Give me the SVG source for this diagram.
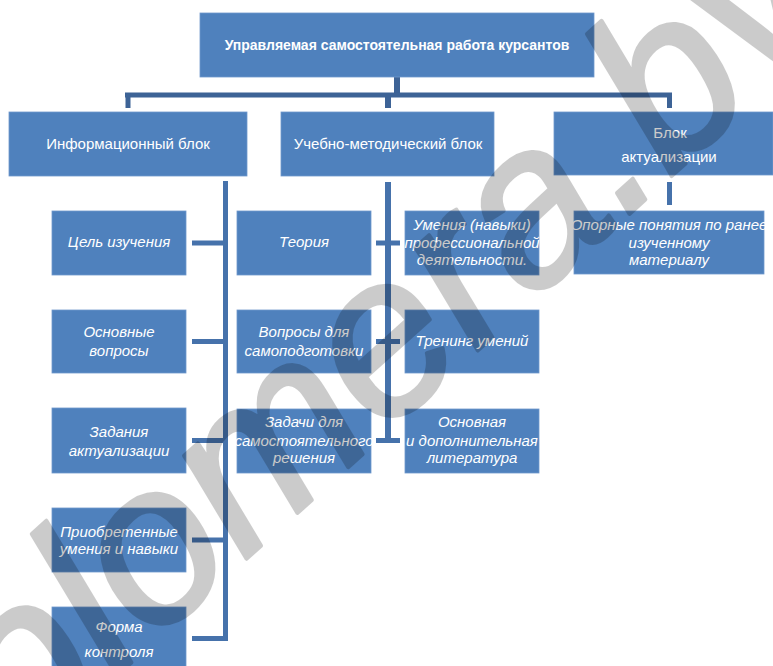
<svg xmlns="http://www.w3.org/2000/svg" width="773" height="666" viewBox="0 0 773 666">
<style>
.box{fill:#4F81BD;stroke:#6f98cc;stroke-width:0.8}
.t{font-family:"Liberation Sans",Arial,sans-serif;fill:#ffffff;text-anchor:middle}
.h{font-size:15px}
.b{font-size:14px;font-weight:bold}
.i{font-size:15px;font-style:italic}
.top{stroke:#3d6396;fill:none}
.ln{stroke:#4672ab;fill:none}
.wm{font-family:"Liberation Sans",Arial,sans-serif;font-size:224px;font-style:italic;fill:#000;stroke:#000;stroke-width:4;stroke-linejoin:round}
</style>
<g id="connectors">
<line class="top" x1="397" y1="77" x2="397" y2="95" stroke-width="6"/>
<line class="top" x1="125" y1="95" x2="672" y2="95" stroke-width="5"/>
<line class="top" x1="128" y1="93" x2="128" y2="108" stroke-width="5"/>
<line class="top" x1="388" y1="95" x2="388" y2="108" stroke-width="6"/>
<line class="top" x1="669.5" y1="93" x2="669.5" y2="108" stroke-width="5"/>
<line class="ln" x1="225.5" y1="181" x2="225.5" y2="641" stroke-width="5"/>
<line class="ln" x1="192" y1="243" x2="225" y2="243" stroke-width="5"/>
<line class="ln" x1="192" y1="341.5" x2="225" y2="341.5" stroke-width="5"/>
<line class="ln" x1="192" y1="440.5" x2="225" y2="440.5" stroke-width="5"/>
<line class="ln" x1="192" y1="540" x2="225" y2="540" stroke-width="5"/>
<line class="ln" x1="192" y1="638.5" x2="228" y2="638.5" stroke-width="5"/>
<line class="ln" x1="388" y1="182" x2="388" y2="443" stroke-width="6"/>
<line class="ln" x1="376" y1="243" x2="400" y2="243" stroke-width="5"/>
<line class="ln" x1="376" y1="341.5" x2="400" y2="341.5" stroke-width="5"/>
<line class="ln" x1="376" y1="440.5" x2="400" y2="440.5" stroke-width="5"/>
<line class="ln" x1="669.5" y1="182" x2="669.5" y2="205" stroke-width="5"/>
</g>
<g id="root">
<rect class="box" x="200" y="13" width="394" height="64"/>
<text class="t b" x="397" y="50">Управляемая самостоятельная работа курсантов</text>
</g>
<g id="info">
<rect class="box" x="9" y="112" width="238" height="64"/>
<text class="t h" x="128" y="149">Информационный блок</text>
</g>
<g id="method">
<rect class="box" x="281" y="112" width="213" height="64"/>
<text class="t h" x="388" y="149">Учебно-методический блок</text>
</g>
<g id="actual">
<rect class="box" x="554" y="112" width="219" height="63"/>
<text class="t h" x="670" y="138">Блок</text>
<text class="t h" x="669" y="162">актуализации</text>
</g>
<g id="goal">
<rect class="box" x="52" y="211" width="134" height="64"/>
<text class="t i" x="119" y="247">Цель изучения</text>
</g>
<g id="questions">
<rect class="box" x="52" y="310" width="134" height="63"/>
<text class="t i" x="119" y="337">Основные</text>
<text class="t i" x="119" y="356">вопросы</text>
</g>
<g id="tasks-act">
<rect class="box" x="52" y="408" width="134" height="65"/>
<text class="t i" x="119" y="437">Задания</text>
<text class="t i" x="119" y="456">актуализации</text>
</g>
<g id="skills-acq">
<rect class="box" x="52" y="508" width="134" height="64"/>
<text class="t i" x="119" y="537">Приобретенные</text>
<text class="t i" x="119" y="554">умения и навыки</text>
</g>
<g id="control">
<rect class="box" x="52" y="607" width="134" height="64"/>
<text class="t i" x="119" y="632">Форма</text>
<text class="t i" x="119" y="657">контроля</text>
</g>
<g id="theory">
<rect class="box" x="237" y="211" width="134" height="64"/>
<text class="t i" x="304" y="247">Теория</text>
</g>
<g id="selfprep">
<rect class="box" x="237" y="310" width="134" height="63"/>
<text class="t i" x="304" y="337">Вопросы для</text>
<text class="t i" x="304" y="356">самоподготовки</text>
</g>
<g id="selftasks">
<rect class="box" x="237" y="409" width="134" height="64"/>
<text class="t i" x="304" y="427">Задачи для</text>
<text class="t i" x="304" y="446">самостоятельного</text>
<text class="t i" x="304" y="463">решения</text>
</g>
<g id="prof-skills">
<rect class="box" x="405" y="211" width="134" height="64"/>
<text class="t i" x="472" y="230">Умения (навыки)</text>
<text class="t i" x="472" y="248">профессиональной</text>
<text class="t i" x="472" y="265">деятельности.</text>
</g>
<g id="training">
<rect class="box" x="405" y="310" width="134" height="63"/>
<text class="t i" x="472" y="346">Тренинг умений</text>
</g>
<g id="literature">
<rect class="box" x="405" y="409" width="134" height="64"/>
<text class="t i" x="472" y="427">Основная</text>
<text class="t i" x="472" y="446">и дополнительная</text>
<text class="t i" x="472" y="463">литература</text>
</g>
<g id="basic-concepts">
<rect class="box" x="574" y="211" width="190" height="63"/>
<text class="t i" x="669" y="230">Опорные понятия по ранее</text>
<text class="t i" x="669" y="248">изученному</text>
<text class="t i" x="669" y="265">материалу</text>
</g>
<g id="watermark" opacity="0.2">
<text class="wm" transform="translate(-108,878) rotate(-42)">diplomera.by</text>
</g>
</svg>
